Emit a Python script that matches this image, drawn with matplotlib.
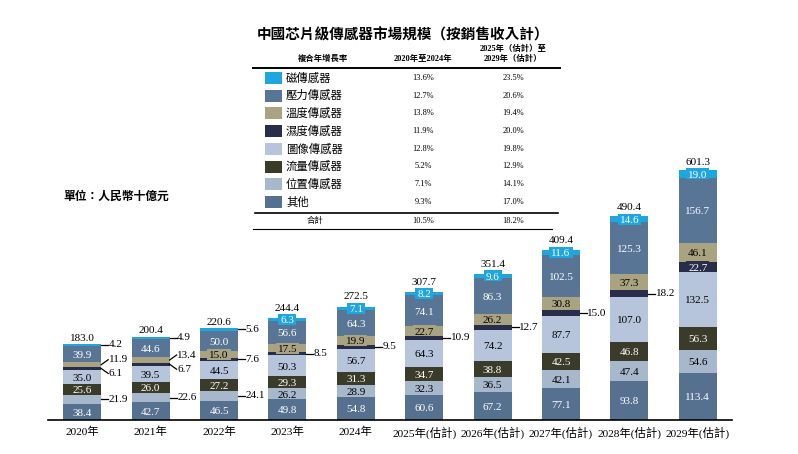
import matplotlib
matplotlib.use('Agg')
import matplotlib.pyplot as plt
from matplotlib.lines import Line2D
from matplotlib.patches import Rectangle

plt.rcParams['font.family'] = ['Liberation Serif', 'Noto Sans CJK TC']

# ---------------- data ----------------
years = ['2020年', '2021年', '2022年', '2023年', '2024年', '2025年(估計)',
         '2026年(估計)', '2027年(估計)', '2028年(估計)', '2029年(估計)']
totals = [183.0, 200.4, 220.6, 244.4, 272.5, 307.7, 351.4, 409.4, 490.4, 601.3]
other = [38.4, 42.7, 46.5, 49.8, 54.8, 60.6, 67.2, 77.1, 93.8, 113.4]
position = [21.9, 22.6, 24.1, 26.2, 28.9, 32.3, 36.5, 42.1, 47.4, 54.6]
flow = [25.6, 26.0, 27.2, 29.3, 31.3, 34.7, 38.8, 42.5, 46.8, 56.3]
image = [35.0, 39.5, 44.5, 50.3, 56.7, 64.3, 74.2, 87.7, 107.0, 132.5]
humidity = [6.1, 6.7, 7.6, 8.5, 9.5, 10.9, 12.7, 15.0, 18.2, 22.7]
temperature = [11.9, 13.4, 15.0, 17.5, 19.9, 22.7, 26.2, 30.8, 37.3, 46.1]
pressure = [39.9, 44.6, 50.0, 56.6, 64.3, 74.1, 86.3, 102.5, 125.3, 156.7]
magnetic = [4.2, 4.9, 5.6, 6.3, 7.1, 8.2, 9.6, 11.6, 14.6, 19.0]

legend_names = ['磁傳感器', '壓力傳感器', '溫度傳感器', '濕度傳感器',
                '圖像傳感器', '流量傳感器', '位置傳感器', '其他']
cagr_2020_2024 = ['13.6%', '12.7%', '13.8%', '11.9%', '12.8%', '5.2%', '7.1%', '9.3%']
cagr_2025_2029 = ['23.5%', '20.6%', '19.4%', '20.0%', '19.8%', '12.9%', '14.1%', '17.0%']
total_cagr = ['10.5%', '18.2%']

# ---------------- styles ----------------
C = {
    '其他': '#56708f', '位置傳感器': '#a7b7cc', '流量傳感器': '#3b3b29',
    '圖像傳感器': '#b7c5dc', '濕度傳感器': '#272d4a', '溫度傳感器': '#a9a382',
    '壓力傳感器': '#587595', '磁傳感器': '#1fa6de',
}
TXT = {
    '其他': 'white', '位置傳感器': 'black', '流量傳感器': 'white',
    '圖像傳感器': 'black', '濕度傳感器': 'white', '溫度傳感器': 'black',
    '壓力傳感器': 'white', '磁傳感器': 'white',
}
stack = [('其他', other), ('位置傳感器', position), ('流量傳感器', flow),
         ('圖像傳感器', image), ('濕度傳感器', humidity), ('溫度傳感器', temperature),
         ('壓力傳感器', pressure), ('磁傳感器', magnetic)]

W, H = 798, 454
fig = plt.figure(figsize=(W / 100, H / 100), dpi=100)
fig.patch.set_facecolor('white')
renderer = fig.canvas.get_renderer()


def fx(px):
    return px / W


def fy(py):
    return 1 - py / H


ax_left, ax_right, ax_bottom, ax_top = 48, 732, 420, 20
ax = fig.add_axes([fx(ax_left), fy(ax_bottom), (ax_right - ax_left) / W, (ax_bottom - ax_top) / H])
ppu = 0.4158  # pixels per unit
ax.set_ylim(0, (ax_bottom - ax_top) / ppu)
ax.set_xlim(-0.5, len(years) - 0.5)
for s in ['left', 'right', 'top']:
    ax.spines[s].set_visible(False)
ax.spines['bottom'].set_linewidth(1.2)
ax.set_yticks([])
xs = list(range(len(years)))
ax.set_xticks(xs)
ax.set_xticklabels(years, fontsize=8.2)
ax.tick_params(axis='x', length=0, pad=5)

bw = 0.555
px_x = (ax_right - ax_left) / len(years)  # pixels per x-unit
dxp = 1.0 / px_x
dyp = 1.0 / ppu

FS = 8
EM = FS * 100 / 72
CAP = 0.676 * EM
BOX_H = 11.0


def boxed_label(x, yc, s, fc, tc):
    t = ax.text(x, yc - CAP / 2 * dyp, s, ha='center', va='baseline', fontsize=FS,
                color=tc, zorder=5)
    wpx = t.get_window_extent(renderer).width + 4
    ax.add_patch(Rectangle((x - wpx / 2 * dxp, yc - BOX_H / 2 * dyp), wpx * dxp, BOX_H * dyp,
                           facecolor=fc, edgecolor='none', zorder=3))


bottoms = [0.0] * len(years)
label_tops = [0.0] * len(years)
for name, vals in stack:
    ax.bar(xs, vals, bw, bottom=bottoms, color=C[name], edgecolor='none', zorder=2)
    for i, v in enumerate(vals):
        b = bottoms[i]
        yc = b + v / 2
        top = b + v
        outside = False
        dy = 0
        if name == '磁傳感器':
            outside = v < 6
        elif name == '溫度傳感器':
            outside = v < 14
            dy = 5 * dyp
        elif name == '濕度傳感器':
            outside = v < 20
            if temperature[i] < 14:
                dy = -5 * dyp
        elif name == '位置傳感器':
            outside = v < 25
        if outside:
            x0 = i + bw / 2
            ax.add_line(Line2D([x0, x0 + 7 * dxp], [yc, yc + dy], color='black', lw=0.9, zorder=4))
            ax.text(x0 + 7.5 * dxp, yc + dy, f'{v:.1f}', ha='left', va='center',
                    fontsize=FS, color='black', zorder=5)
            label_tops[i] = max(label_tops[i], top)
        else:
            boxed_label(i, yc, f'{v:.1f}', C[name], TXT[name])
            label_tops[i] = max(label_tops[i], top, yc + BOX_H / 2 * dyp)
        bottoms[i] = top

for i, t in enumerate(totals):
    ax.annotate(f'{t:.1f}', xy=(i, label_tops[i]), xytext=(0, 1.0), textcoords='offset points',
                ha='center', va='bottom', fontsize=FS, color='black', zorder=6)

# ---------------- unit ----------------
fig.text(fx(63), fy(197), '單位：人民幣十億元', ha='left', va='center', fontsize=8.5,
         fontweight='bold')

# ---------------- table ----------------
fig.text(fx(403), fy(35), '中國芯片級傳感器市場規模（按銷售收入計）', ha='center', va='center',
         fontsize=10.5, fontweight='bold')
fig.text(fx(323), fy(59), '複合年增長率', ha='center', va='center', fontsize=6, fontweight='bold')
fig.text(fx(423), fy(59), '2020年至2024年', ha='center', va='center', fontsize=6, fontweight='bold')
fig.text(fx(513), fy(49), '2025年（估計）至', ha='center', va='center', fontsize=6, fontweight='bold')
fig.text(fx(513), fy(59), '2029年（估計）', ha='center', va='center', fontsize=6, fontweight='bold')

fig.add_artist(Line2D([fx(253), fx(560)], [fy(68), fy(68)], color='black', lw=1.4))
fig.add_artist(Line2D([fx(255), fx(558)], [fy(213), fy(213)], color='black', lw=1.2))
fig.add_artist(Line2D([fx(253), fx(552)], [fy(229), fy(229)], color='black', lw=0.8))

row_y0, row_dy = 78, 17.7
for k, name in enumerate(legend_names):
    y = row_y0 + k * row_dy
    fig.add_artist(Rectangle((fx(265), fy(y + 6)), 17 / W, 12 / H, facecolor=C[name],
                             edgecolor='none', transform=fig.transFigure))
    fig.text(fx(286), fy(y), name, ha='left', va='center', fontsize=8.2)
    fig.text(fx(423), fy(y), cagr_2020_2024[k], ha='center', va='center', fontsize=6)
    fig.text(fx(513), fy(y), cagr_2025_2029[k], ha='center', va='center', fontsize=6)

fig.text(fx(315), fy(221), '合計', ha='center', va='center', fontsize=6)
fig.text(fx(423), fy(221), total_cagr[0], ha='center', va='center', fontsize=6)
fig.text(fx(513), fy(221), total_cagr[1], ha='center', va='center', fontsize=6)

fig.savefig('out.png', dpi=100, facecolor='white')
